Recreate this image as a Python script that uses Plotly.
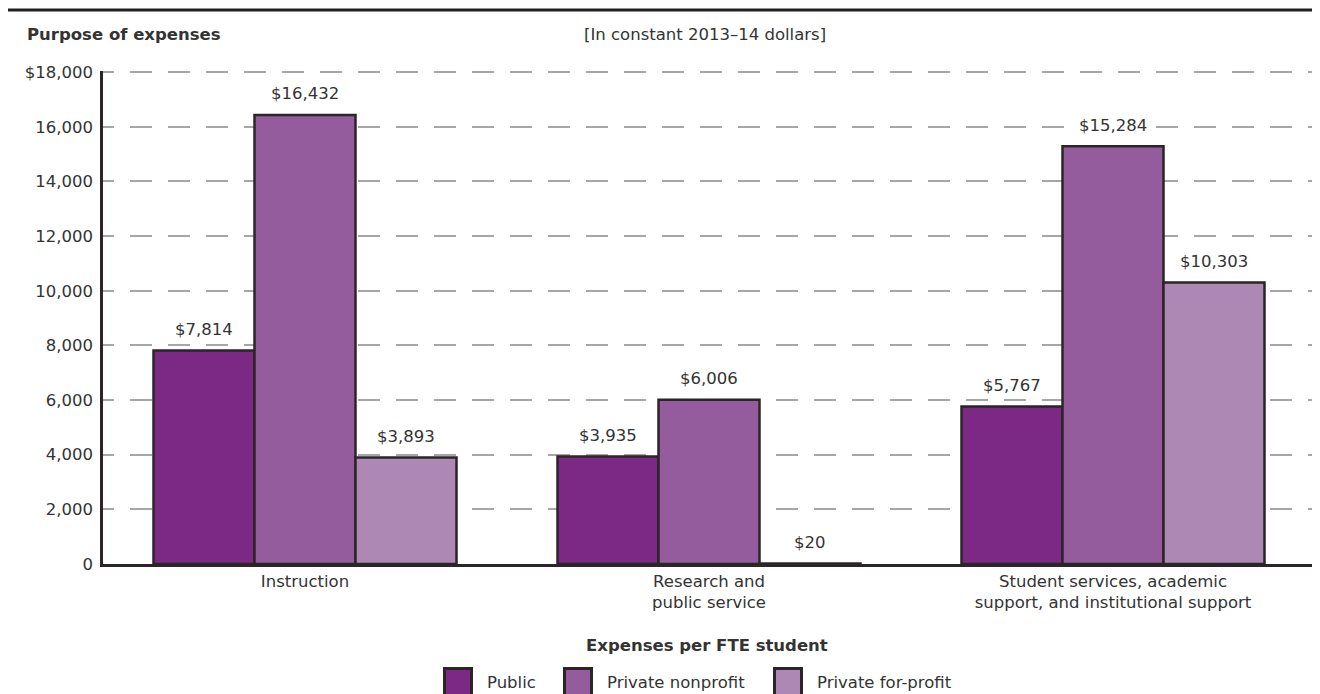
import plotly.graph_objects as go

# ---- data ----
categories = ["Instruction", "Research and<br>public service",
              "Student services, academic<br>support, and institutional support"]
series_names = ["Public", "Private nonprofit", "Private for-profit"]
public_vals = [7814, 3935, 5767]
nonprofit_vals = [16432, 6006, 15284]
forprofit_vals = [3893, 20, 10303]
y_tickvals = [0, 2000, 4000, 6000, 8000, 10000, 12000, 14000, 16000, 18000]
y_ticktext = ["0", "2,000", "4,000", "6,000", "8,000", "10,000", "12,000",
              "14,000", "16,000", "$18,000"]

colors = ["#7B2984", "#945C9C", "#AE88B5"]
outline = "#2B2527"
txt = "#333333"
FONT = "DejaVu Sans"
FS = 16.5

OFF = 8  # page body margin
W, H = 1312, 686
L, R, T, B = 95, 5, 63, 130
pw, ph = W - L - R, H - T - B


def px(xs):
    return (xs - OFF - L) / pw


def py(ys):
    return (H - B - (ys - OFF)) / ph


fig = go.Figure()
all_vals = [public_vals, nonprofit_vals, forprofit_vals]
for name, vals, col in zip(series_names, all_vals, colors):
    fig.add_trace(go.Bar(
        name=name, x=categories, y=vals, offsetgroup=name,
        marker=dict(color=col, line=dict(color=outline, width=2.5)),
        showlegend=False, hoverinfo="skip",
    ))

bargap = 0.25
bar_px = pw / len(categories) * (1 - bargap) / len(series_names)
for i, vals in enumerate(all_vals):
    for cat, v in zip(categories, vals):
        fig.add_annotation(x=cat, y=v, xref="x", yref="y", text=f"${v:,}",
                           showarrow=False, xanchor="center", yanchor="middle",
                           xshift=(i - 1) * bar_px, yshift=21, bgcolor="white",
                           borderpad=0, font=dict(family=FONT, size=FS, color=txt))

# dashed grid pattern, phase-shifted so it starts with a short dash at the axis
grid_dash = "11px,16px" + ",22px,16px" * 33

fig.update_layout(
    width=W, height=H, margin=dict(l=L, r=R, t=T, b=B),
    barmode="group", bargap=bargap, bargroupgap=0,
    plot_bgcolor="white", paper_bgcolor="white",
    font=dict(family=FONT, size=FS, color=txt),
    showlegend=False,
)
fig.update_xaxes(showline=True, linecolor=outline, linewidth=2.5, showgrid=False,
                 ticks="", tickfont=dict(size=FS, color=txt))
fig.update_yaxes(range=[0, 18040], tickvals=y_tickvals, ticktext=y_ticktext,
                 showline=True, linecolor=outline, linewidth=2.5,
                 showgrid=True, gridcolor="#A6A6A6", gridwidth=2, griddash=grid_dash,
                 zeroline=False, ticks="", ticklabelstandoff=4,
                 tickfont=dict(size=FS, color=txt))

# top rule
fig.add_shape(type="line", xref="paper", yref="paper", x0=px(7), x1=px(1320),
              y0=py(10), y1=py(10), line=dict(color="#231F20", width=3))

fig.add_annotation(xref="paper", yref="paper", x=px(25), y=py(34), xanchor="left",
                   yanchor="middle", showarrow=False, text="<b>Purpose of expenses</b>",
                   font=dict(size=FS, color=txt))
fig.add_annotation(xref="paper", yref="paper", x=px(705), y=py(35), xanchor="center",
                   yanchor="middle", showarrow=False, text="[In constant 2013–14 dollars]",
                   font=dict(size=FS, color=txt))

# legend
fig.add_annotation(xref="paper", yref="paper", x=px(707), y=py(645), xanchor="center",
                   yanchor="middle", showarrow=False, text="<b>Expenses per FTE student</b>",
                   font=dict(size=FS, color=txt))
sq_x = [443, 563, 773]
for name, col, x0 in zip(series_names, colors, sq_x):
    fig.add_shape(type="rect", xref="paper", yref="paper", x0=px(x0 + 1.5), x1=px(x0 + 28.5),
                  y0=py(668.5), y1=py(697), fillcolor=col, line=dict(color=outline, width=3))
    fig.add_annotation(xref="paper", yref="paper", x=px(x0 + 42), y=py(682), xanchor="left",
                       yanchor="middle", showarrow=False, text=name,
                       font=dict(size=FS, color=txt))

fig.write_html("out.html")
